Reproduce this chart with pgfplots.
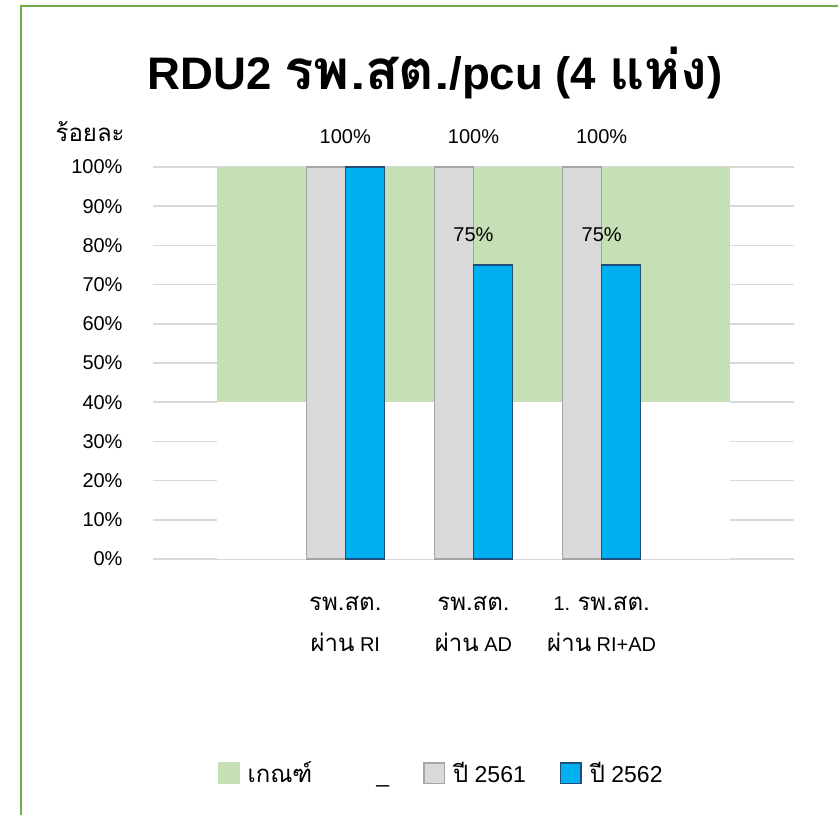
\documentclass[border=0pt]{standalone}
\usepackage{fontspec}
\setmainfont{Liberation Sans}
\newfontfamily\thai[Script=Thai, Scale=1.2]{Loma}
\newfontfamily\thaiS[Script=Thai, Scale=1.04]{Loma}
\usepackage{pgfplots}
\pgfplotsset{compat=1.18}

\definecolor{critgreen}{HTML}{C5E0B4}
\definecolor{bargrey}{HTML}{D9D9D9}
\definecolor{bargreyedge}{HTML}{A5A5A5}
\definecolor{barblue}{HTML}{00B0F0}
\definecolor{barblueedge}{HTML}{1F4E79}
\definecolor{gridgrey}{HTML}{D9D9D9}
\definecolor{framegreen}{HTML}{70AD47}

\begin{document}
\begin{tikzpicture}
\begin{axis}[
  at={(0pt,0pt)}, anchor=south west,
  scale only axis, width=320.5pt, height=196pt,
  xmin=-0.5, xmax=4.5, ymin=0, ymax=100,
  xtick={1,2,3},
  xticklabels={
    {{\thai รพ.สต.}\\{\thai ผ่าน} RI},
    {{\thai รพ.สต.}\\{\thai ผ่าน} AD},
    {1. {\thai รพ.สต.}\\{\thai ผ่าน} RI+AD}},
  ytick={0,10,...,100},
  yticklabel={\pgfmathprintnumber{\tick}\%},
  /pgf/number format/assume math mode=true,
  ymajorgrids, grid style={color=gridgrey, line width=0.75pt},
  axis line style={draw=none},
  major tick length=0pt,
  tick label style={font=\fontsize{10}{12}\selectfont},
  yticklabel style={xshift=-11.7pt},
  xticklabel style={align=center, font=\fontsize{10}{20.5}\selectfont,
    anchor=north, yshift=-15pt},
  legend style={at={(0.451,-0.547)}, anchor=center, draw=none, fill=none,
    font=\fontsize{11.5}{13.8}\selectfont,
    /tikz/every odd column/.append style={column sep=2pt},
    /tikz/every even column/.append style={column sep=15pt}},
  legend columns=4,
  clip=false,
]
% criterion band: green up to 100, white cover up to 40
\addplot[fill=critgreen, draw=none,
  legend image code/.code={\fill[critgreen] (0pt,-5.5pt) rectangle (11pt,5.5pt);}]
  coordinates {(0,100) (4,100)} \closedcycle;
\addlegendentry{\thaiS เกณฑ์}
\addplot[fill=white, draw=none,
  legend image code/.code={\fill[white] (0pt,-5.5pt) rectangle (11pt,5.5pt);}]
  coordinates {(0,40) (4,40)} \closedcycle;
\addlegendentry{\vphantom{\thaiS ปี}\strut\symbol{95}}

\addplot[ybar, bar width=0.304, bar shift=-0.152, fill=bargrey,
  draw=bargreyedge, line width=0.6pt,
  legend image code/.code={\draw[fill=bargrey, draw=bargreyedge, line width=0.8pt]
    (0.4pt,-5.1pt) rectangle (10.6pt,5.1pt);},
  point meta=explicit symbolic, nodes near coords,
  every node near coord/.append style={font=\fontsize{10}{12}\selectfont,
    yshift=7.8pt, text=black}]
  coordinates {(1,100) [100\%] (2,100) [100\%] (3,100) [100\%]};
\addlegendentry{{\thaiS ปี} 2561}

\addplot[ybar, bar width=0.304, bar shift=0.152, fill=barblue,
  draw=barblueedge, line width=0.6pt,
  legend image code/.code={\draw[fill=barblue, draw=barblueedge, line width=0.8pt]
    (0.4pt,-5.1pt) rectangle (10.6pt,5.1pt);},
  point meta=explicit symbolic, nodes near coords,
  every node near coord/.append style={font=\fontsize{10}{12}\selectfont,
    yshift=7.8pt, text=black}]
  coordinates {(1,100) [] (2,75) [75\%] (3,75) [75\%]};
\addlegendentry{{\thaiS ปี} 2562}
\end{axis}

\node[font=\fontsize{22.8}{27}\selectfont\bfseries, anchor=base]
  at (141pt,234.5pt) {RDU2 {\thai รพ.สต.}/pcu (4 {\thai แห่ง})};
\node[font=\fontsize{10}{12}\selectfont, anchor=base east, inner sep=0pt]
  at (-14pt,209pt) {\thai ร้อยละ};

\draw[framegreen, line width=1pt] (-66pt,-128pt) -- (-66pt,276.5pt) -- (342.5pt,276.5pt);

\pgfresetboundingbox
\useasboundingbox (-76.5pt,-128pt) rectangle (342.5pt,279.5pt);
\end{tikzpicture}
\end{document}
